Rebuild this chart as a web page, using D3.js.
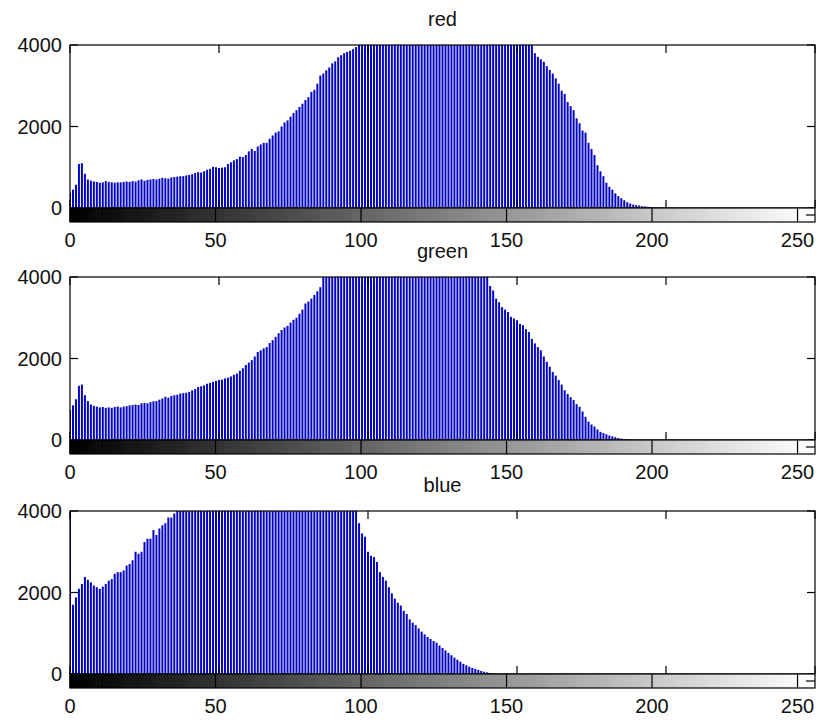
<!DOCTYPE html>
<html>
<head>
<meta charset="utf-8">
<script src="https://cdn.jsdelivr.net/npm/d3@7"></script>
<style>
  body { margin: 0; background: #fff; }
  svg { display: block; font-family: "Liberation Sans", Arial, sans-serif; }
</style>
</head>
<body>
<svg id="chart"></svg>
<script>
const WIDTH = 819
const HEIGHT = 723
const LEFT = 70
const RIGHT = 815
const PLOT_H = 163
const CBAR_H = 14
const TOPS = [45, 277, 511]

// channel names (panel titles)
const titles = ["red", "green", "blue"]
const xTicks = [0, 50, 100, 150, 200, 250]
const yTicks = [0, 2000, 4000]

// histogram counts, bins 0..255 (clipped at 4000 where the stems hit the top)
const redCounts = [
  370,450,570,1080,1100,840,700,670,650,640,620,630,660,640,630,620,
  630,630,640,650,640,660,650,680,700,670,690,700,710,700,720,740,
  730,720,750,760,770,780,780,800,810,830,860,880,870,900,940,960,
  1010,1000,980,990,1000,1080,1120,1170,1200,1260,1250,1300,1390,1450,1400,1510,
  1560,1600,1600,1700,1780,1850,1880,2000,2100,2150,2240,2330,2400,2480,2560,2650,
  2720,2850,2900,3050,3250,3300,3380,3450,3550,3600,3700,3750,3800,3830,3860,3900,
  3950,4000,4000,4000,4000,4000,4000,4000,4000,4000,4000,4000,4000,4000,4000,4000,
  4000,4000,4000,4000,4000,4000,4000,4000,4000,4000,4000,4000,4000,4000,4000,4000,
  4000,4000,4000,4000,4000,4000,4000,4000,4000,4000,4000,4000,4000,4000,4000,4000,
  4000,4000,4000,4000,4000,4000,4000,4000,4000,4000,4000,4000,3800,3710,3650,3590,
  3480,3390,3300,3180,3050,2880,2800,2600,2500,2400,2200,2080,1900,1850,1600,1450,
  1300,1050,900,780,620,520,450,360,290,240,190,140,110,85,70,60,
  45,40,30,20,15,10,6,4,2,0,0,0,0,0,0,0,
  0,0,0,0,0,0,0,0,0,0,0,0,0,0,0,0,
  0,0,0,0,0,0,0,0,0,0,0,0,0,0,0,0,
  0,0,0,0,0,0,0,0,0,0,0,0,0,0,0,0
]

const greenCounts = [
  735,850,1000,1330,1360,1100,955,870,840,820,800,810,790,800,790,810,
  820,800,820,830,850,860,870,860,900,910,900,930,950,955,990,1020,
  1060,1040,1080,1100,1110,1140,1150,1160,1180,1220,1250,1300,1320,1340,1380,1400,
  1430,1450,1470,1480,1510,1530,1560,1600,1630,1700,1760,1840,1900,1960,2050,2160,
  2200,2250,2280,2380,2450,2530,2620,2700,2760,2800,2880,2950,3000,3100,3200,3350,
  3400,3470,3560,3650,3750,4000,4000,4000,4000,4000,4000,4000,4000,4000,4000,4000,
  4000,4000,4000,4000,4000,4000,4000,4000,4000,4000,4000,4000,4000,4000,4000,4000,
  4000,4000,4000,4000,4000,4000,4000,4000,4000,4000,4000,4000,4000,4000,4000,4000,
  4000,4000,4000,4000,4000,4000,4000,4000,4000,4000,4000,4000,4000,3780,3670,3470,
  3380,3260,3200,3140,3020,2980,2940,2850,2820,2720,2650,2480,2370,2280,2200,2050,
  1920,1800,1670,1580,1470,1360,1220,1130,1050,980,880,815,700,570,450,380,
  330,260,200,170,140,110,90,70,50,35,25,15,10,5,0,0,
  0,0,0,0,0,0,0,0,0,0,0,0,0,0,0,0,
  0,0,0,0,0,0,0,0,0,0,0,0,0,0,0,0,
  0,0,0,0,0,0,0,0,0,0,0,0,0,0,0,0,
  0,0,0,0,0,0,0,0,0,0,0,0,0,0,0,0
]

const blueCounts = [
  4000,1700,1880,2090,2210,2380,2310,2250,2170,2130,2090,2145,2210,2290,2330,2460,
  2500,2500,2540,2660,2700,2790,3000,2950,3000,3240,3320,3320,3530,3410,3570,3650,
  3700,3840,3840,3940,4000,4000,4000,4000,4000,4000,4000,4000,4000,4000,4000,4000,
  4000,4000,4000,4000,4000,4000,4000,4000,4000,4000,4000,4000,4000,4000,4000,4000,
  4000,4000,4000,4000,4000,4000,4000,4000,4000,4000,4000,4000,4000,4000,4000,4000,
  4000,4000,4000,4000,4000,4000,4000,4000,4000,4000,4000,4000,4000,4000,4000,4000,
  4000,3700,3450,3370,3000,2900,2870,2750,2500,2380,2290,2130,1980,1850,1750,1680,
  1550,1470,1340,1260,1200,1120,1040,970,910,860,810,770,700,640,580,520,
  460,400,350,300,250,215,180,150,125,100,75,55,40,25,15,8,
  0,0,0,0,0,0,0,0,0,0,0,0,0,0,0,0,
  0,0,0,0,0,0,0,0,0,0,0,0,0,0,0,0,
  0,0,0,0,0,0,0,0,0,0,0,0,0,0,0,0,
  0,0,0,0,0,0,0,0,0,0,0,0,0,0,0,0,
  0,0,0,0,0,0,0,0,0,0,0,0,0,0,0,0,
  0,0,0,0,0,0,0,0,0,0,0,0,0,0,0,0,
  0,0,0,0,0,0,0,0,0,0,0,0,0,0,0,0
]

const svg = d3.select("#chart").attr("width", WIDTH).attr("height", HEIGHT)

// stem axes and colorbar axes use slightly different x limits (as imhist does)
const xStem = d3.scaleLinear().domain([0, 250]).range([LEFT, RIGHT])
const xBar = d3.scaleLinear().domain([0, 256]).range([LEFT, RIGHT])

function drawPanel(counts, title, top, idx) {
  const y = d3.scaleLinear().domain([0, 4000]).range([top + PLOT_H, top])
  const g = svg.append("g")

  g.append("clipPath").attr("id", "clip" + idx)
    .append("rect").attr("x", LEFT).attr("y", top).attr("width", RIGHT - LEFT).attr("height", PLOT_H)

  // stems
  g.append("g").attr("clip-path", `url(#clip${idx})`)
    .selectAll("line").data(counts).join("line")
    .attr("x1", (d, i) => xStem(i)).attr("x2", (d, i) => xStem(i))
    .attr("y1", y(0)).attr("y2", d => y(d))
    .attr("stroke", "#0505c4").attr("stroke-width", 2)

  // box
  g.append("rect").attr("x", LEFT).attr("y", top).attr("width", RIGHT - LEFT).attr("height", PLOT_H)
    .attr("fill", "none").attr("stroke", "#000").attr("stroke-width", 1.2)

  // inward ticks, top/bottom and left/right
  const tk = g.append("g").attr("stroke", "#000").attr("stroke-width", 1.2)
  xTicks.forEach(t => {
    tk.append("line").attr("x1", xStem(t)).attr("x2", xStem(t)).attr("y1", top).attr("y2", top + 8)
    tk.append("line").attr("x1", xStem(t)).attr("x2", xStem(t)).attr("y1", top + PLOT_H).attr("y2", top + PLOT_H - 8)
  })
  yTicks.forEach(t => {
    tk.append("line").attr("x1", LEFT).attr("x2", LEFT + 8).attr("y1", y(t)).attr("y2", y(t))
    tk.append("line").attr("x1", RIGHT).attr("x2", RIGHT - 8).attr("y1", y(t)).attr("y2", y(t))
  })

  // y labels
  g.selectAll(".ylab").data(yTicks).join("text")
    .attr("x", 62).attr("y", d => y(d)).attr("dy", "0.36em")
    .attr("text-anchor", "end").attr("font-size", 20).attr("fill", "#111")
    .text(d => d)

  // title
  g.append("text").attr("x", (LEFT + RIGHT) / 2).attr("y", top - 19)
    .attr("text-anchor", "middle").attr("font-size", 20).attr("fill", "#111")
    .text(title)

  // grayscale colorbar
  const cTop = top + PLOT_H
  g.append("g").selectAll("rect").data(d3.range(256)).join("rect")
    .attr("x", d => xBar(d)).attr("width", xBar(1) - xBar(0) + 0.6)
    .attr("y", cTop).attr("height", CBAR_H)
    .attr("fill", d => d3.rgb(d, d, d))
  g.append("rect").attr("x", LEFT).attr("y", cTop).attr("width", RIGHT - LEFT).attr("height", CBAR_H)
    .attr("fill", "none").attr("stroke", "#000").attr("stroke-width", 1.2)
  const ct = g.append("g").attr("stroke", "#000").attr("stroke-width", 1.2)
  xTicks.forEach(t => {
    ct.append("line").attr("x1", xBar(t)).attr("x2", xBar(t)).attr("y1", cTop).attr("y2", cTop + CBAR_H)
  })
  ct.append("line").attr("x1", RIGHT - 9).attr("x2", RIGHT).attr("y1", cTop + CBAR_H / 2).attr("y2", cTop + CBAR_H / 2)

  // x labels under the colorbar
  g.selectAll(".xlab").data(xTicks).join("text")
    .attr("x", d => xBar(d)).attr("y", cTop + CBAR_H + 25)
    .attr("text-anchor", "middle").attr("font-size", 20).attr("fill", "#111")
    .text(d => d)
}

drawPanel(redCounts, titles[0], TOPS[0], 0)
drawPanel(greenCounts, titles[1], TOPS[1], 1)
drawPanel(blueCounts, titles[2], TOPS[2], 2)
</script>
</body>
</html>
